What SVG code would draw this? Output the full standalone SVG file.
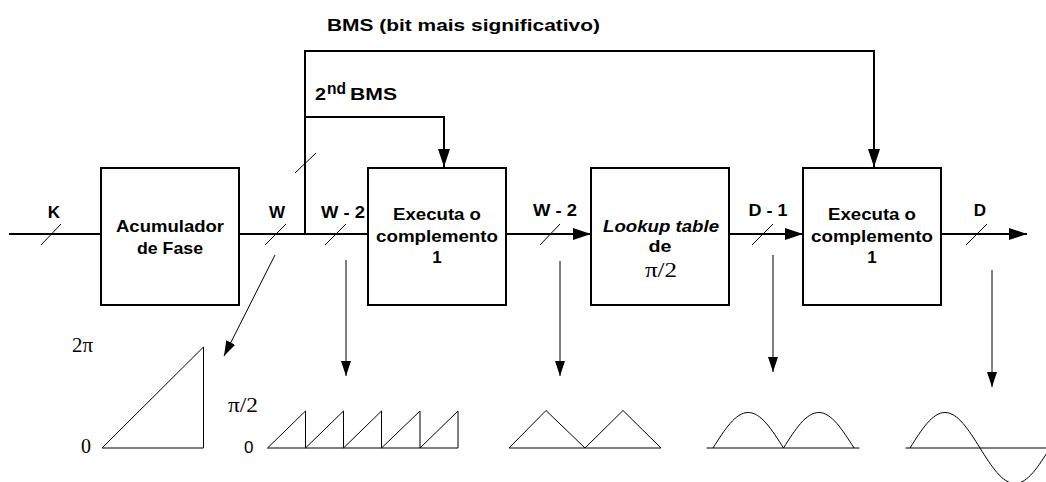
<svg xmlns="http://www.w3.org/2000/svg" width="1046" height="482" viewBox="0 0 1046 482">
<style>
.box{fill:#fff;stroke:#000;stroke-width:2}
.wire{fill:none;stroke:#000;stroke-width:2}
.thin{fill:none;stroke:#000;stroke-width:1}
.tick{stroke:#000;stroke-width:1}
.wave{fill:none;stroke:#000;stroke-width:1}
.b{font-family:"Liberation Sans",Arial,sans-serif;font-weight:bold;font-size:17px;fill:#000}
.bi{font-family:"Liberation Sans",Arial,sans-serif;font-weight:bold;font-style:italic;font-size:17px;fill:#000}
.m{text-anchor:middle}
.s{font-family:"Liberation Serif","Times New Roman",serif;font-size:20px;fill:#000}
.ss{font-family:"Liberation Sans",Arial,sans-serif;font-size:17px;fill:#000}
</style>
<defs>
<marker id="ah" markerUnits="userSpaceOnUse" markerWidth="18" markerHeight="12" refX="18" refY="6" orient="auto" viewBox="0 0 18 12">
<path d="M0,0 L18,6 L0,12 z" fill="#000"/>
</marker>
<marker id="as" markerUnits="userSpaceOnUse" markerWidth="15" markerHeight="10" refX="15" refY="5" orient="auto" viewBox="0 0 15 10">
<path d="M0,0 L15,5 L0,10 z" fill="#000"/>
</marker>
</defs>
<rect width="1046" height="482" fill="#fff"/>

<text class="b" x="327" y="31" font-size="17.5" textLength="273" lengthAdjust="spacingAndGlyphs">BMS (bit mais significativo)</text>
<text class="b" x="315" y="100" textLength="11" lengthAdjust="spacingAndGlyphs">2</text>
<text class="b" x="327" y="94" font-size="11" textLength="19" lengthAdjust="spacingAndGlyphs">nd</text>
<text class="b" x="350" y="100" textLength="47" lengthAdjust="spacingAndGlyphs">BMS</text>

<g id="connectors">
<path class="wire" d="M9,234 H101"/>
<path class="wire" d="M239,234 H368"/>
<path class="wire" d="M506,234 H591" marker-end="url(#ah)"/>
<path class="wire" d="M729,234 H803" marker-end="url(#ah)"/>
<path class="wire" d="M941,234 H1027" marker-end="url(#ah)"/>
<path class="wire" d="M305,234 V51 H874 V167" marker-end="url(#ah)"/>
<path class="wire" d="M305,117 H444 V167" marker-end="url(#ah)"/>
<line class="tick" x1="41" y1="245" x2="61" y2="224"/>
<line class="tick" x1="265" y1="245" x2="286" y2="224"/>
<line class="tick" x1="325" y1="245" x2="346" y2="224"/>
<line class="tick" x1="540" y1="245" x2="560" y2="224"/>
<line class="tick" x1="752" y1="245" x2="773" y2="224"/>
<line class="tick" x1="966" y1="245" x2="987" y2="224"/>
<line class="tick" x1="295" y1="173" x2="316" y2="153"/>
<path class="thin" d="M275,255 L224,356" marker-end="url(#as)"/>
<path class="thin" d="M346,260 V376" marker-end="url(#as)"/>
<path class="thin" d="M560,261 V376" marker-end="url(#as)"/>
<path class="thin" d="M773,255 V372" marker-end="url(#as)"/>
<path class="thin" d="M992,270 V387" marker-end="url(#as)"/>
<text class="b m" x="54" y="218">K</text>
<text class="b m" x="277" y="218">W</text>
<text class="b m" x="343" y="218" textLength="44" lengthAdjust="spacingAndGlyphs">W - 2</text>
<text class="b m" x="555" y="216" textLength="44" lengthAdjust="spacingAndGlyphs">W - 2</text>
<text class="b m" x="768" y="216" textLength="39" lengthAdjust="spacingAndGlyphs">D - 1</text>
<text class="b m" x="980" y="216">D</text>
</g>

<g id="acumulador">
<rect class="box" x="101" y="168" width="138" height="137"/>
<text class="b m" x="170" y="232" textLength="108" lengthAdjust="spacingAndGlyphs">Acumulador</text>
<text class="b m" x="170" y="254" textLength="66" lengthAdjust="spacingAndGlyphs">de Fase</text>
</g>

<g id="complemento1">
<rect class="box" x="368" y="168" width="138" height="137"/>
<text class="b m" x="437" y="220" textLength="88" lengthAdjust="spacingAndGlyphs">Executa o</text>
<text class="b m" x="437" y="241.5" textLength="122" lengthAdjust="spacingAndGlyphs">complemento</text>
<text class="b m" x="437" y="263">1</text>
</g>

<g id="lookup">
<rect class="box" x="591" y="168" width="138" height="137"/>
<text class="bi m" x="661" y="231.5" textLength="116" lengthAdjust="spacingAndGlyphs">Lookup table</text>
<text class="b m" x="660" y="251.5" textLength="23" lengthAdjust="spacingAndGlyphs">de</text>
<text class="s m" x="661" y="277" font-size="21" textLength="32" lengthAdjust="spacingAndGlyphs">π/2</text>
</g>

<g id="complemento2">
<rect class="box" x="803" y="168" width="138" height="137"/>
<text class="b m" x="872" y="220" textLength="88" lengthAdjust="spacingAndGlyphs">Executa o</text>
<text class="b m" x="872" y="241.5" textLength="122" lengthAdjust="spacingAndGlyphs">complemento</text>
<text class="b m" x="872" y="263">1</text>
</g>

<g id="wave-ramp">
<path class="wave" d="M102,448 L203.5,347 V448 Z"/>
<text class="s" x="72" y="352" textLength="21" lengthAdjust="spacingAndGlyphs">2π</text>
<text class="s" x="81" y="452.5">0</text>
</g>

<g id="wave-saw">
<path class="wave" d="M267.5,448 H458 M267.5,448 L305.5,411 V448 L343.5,411 V448 L381.5,411 V448 L420,411 V448 L458,411 V448"/>
<text class="s" x="228" y="412" textLength="30" lengthAdjust="spacingAndGlyphs">π/2</text>
<text class="ss" x="244" y="453">0</text>
</g>

<g id="wave-triangle">
<path class="wave" d="M509,448 H661 M509,448 L546,410.5 L585,448 L623,410.5 L661,448"/>
</g>

<g id="wave-rectified">
<path class="wave" d="M706.5,448 H859.5"/>
<path class="wave" d="M713,448 C724.5,429.8 735.5,412.5 748.25,412.5 C761,412.5 772,429.8 783.5,448 C795,429.8 806,412.5 818.75,412.5 C831.5,412.5 842.5,429.8 854,448"/>
</g>

<g id="wave-sine">
<path class="wave" d="M905.5,448 H1046"/>
<path class="wave" d="M910,448 C921.4,429.8 932.3,412.5 945,412.5 C957.7,412.5 968.6,429.8 980,448 C991.4,466.2 1002.3,483.5 1015,483.5 C1027.7,483.5 1038.6,466.2 1050,448"/>
</g>
</svg>
